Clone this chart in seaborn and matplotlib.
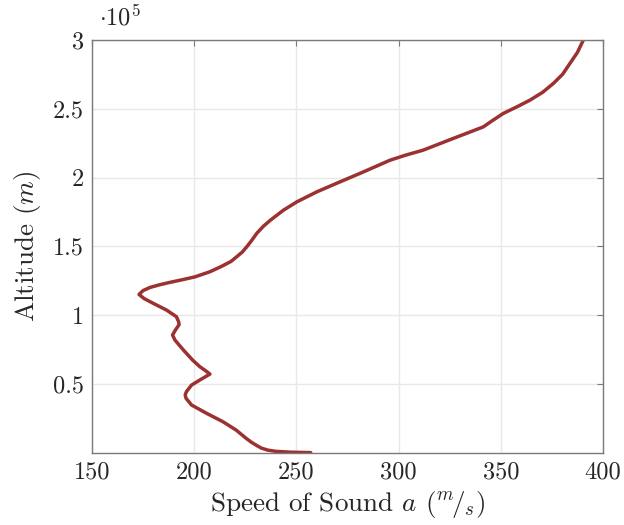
import matplotlib
matplotlib.use("Agg")
import matplotlib.pyplot as plt
import seaborn as sns
import pandas as pd

# speed of sound (m/s) vs altitude (m)
speed = [257.0, 247.0, 240.0, 236.0, 233.0, 231.0, 228.0, 225.4, 220.5, 214.0,
         206.0, 198.7, 196.0, 195.6, 196.2, 198.7, 203.0, 207.7, 205.5, 202.8,
         199.2, 194.7, 190.6, 189.4, 190.8, 192.6, 192.4, 191.3, 186.5, 180.0,
         175.5, 173.0, 175.0, 178.4, 183.0, 188.2, 194.5, 200.4, 207.7, 213.5,
         218.0, 220.8, 223.5, 225.7, 228.0, 230.6, 233.8, 237.2, 243.7, 250.2,
         260.0, 271.4, 282.8, 295.8, 303.5, 312.0, 326.0, 341.4, 346.0, 351.2,
         358.0, 364.3, 370.5, 375.7, 380.2, 383.8, 387.5, 390.4]
altitude = [0, 300, 900, 1800, 3200, 4800, 7500, 10400, 16400, 22500,
            28600, 34600, 39500, 42000, 44300, 49100, 53000, 57100, 59600, 62400,
            67300, 74600, 81800, 85500, 89100, 93000, 95100, 98800, 103600, 108500,
            112000, 115000, 117800, 120100, 122000, 123800, 125800, 127800, 131500, 135500,
            139000, 142400, 145800, 149600, 154000, 159400, 164500, 168900, 176300, 182300,
            189600, 196900, 204100, 212600, 216300, 219900, 228000, 236800, 241500, 246600,
            251500, 256300, 262000, 268400, 275000, 282900, 291000, 300000]

xticks = [150, 200, 250, 300, 350, 400]
yticks = [50000, 100000, 150000, 200000, 250000, 300000]
ytick_labels = ["0.5", "1", "1.5", "2", "2.5", "3"]

sns.set_style("white")
plt.rcParams["font.family"] = ["cmr10", "DejaVu Serif"]
plt.rcParams["mathtext.fontset"] = "cm"
plt.rcParams["axes.formatter.use_mathtext"] = True

df = pd.DataFrame({"speed": speed, "altitude": altitude})

fig = plt.figure(figsize=(6.24, 5.25), dpi=100)
ax = fig.add_axes([92 / 624, 1 - 452.6 / 525, 511 / 624, 412.6 / 525])

sns.lineplot(data=df, x="speed", y="altitude", sort=False, estimator=None,
             color="#9b3131", linewidth=2.5, solid_joinstyle="round", ax=ax)

ax.set_xlim(150, 400)
ax.set_ylim(0, 300000)
ax.set_xticks(xticks)
ax.set_xticklabels([str(t) for t in xticks])
ax.set_yticks(yticks)
ax.set_yticklabels(ytick_labels)

ax.grid(True, color="#e8e8e8", linewidth=1.0)
ax.set_axisbelow(True)
for s in ax.spines.values():
    s.set_color("#7a7a7a")
    s.set_linewidth(1.0)
ax.tick_params(direction="in", length=4, width=0.8, color="#7a7a7a",
               top=True, right=True, labelsize=17.5, pad=6)

ax.set_xlabel(r"Speed of Sound $a$ $(^{m}\!/_{s})$", fontsize=19.5, labelpad=4)
ax.set_ylabel(r"Altitude $(m)$", fontsize=19.5, labelpad=7)
fig.text(99 / 624, 1 - 17 / 525, r"$\cdot 10^5$", fontsize=17.5, va="center", ha="left")

fig.savefig("out.png", dpi=100)
